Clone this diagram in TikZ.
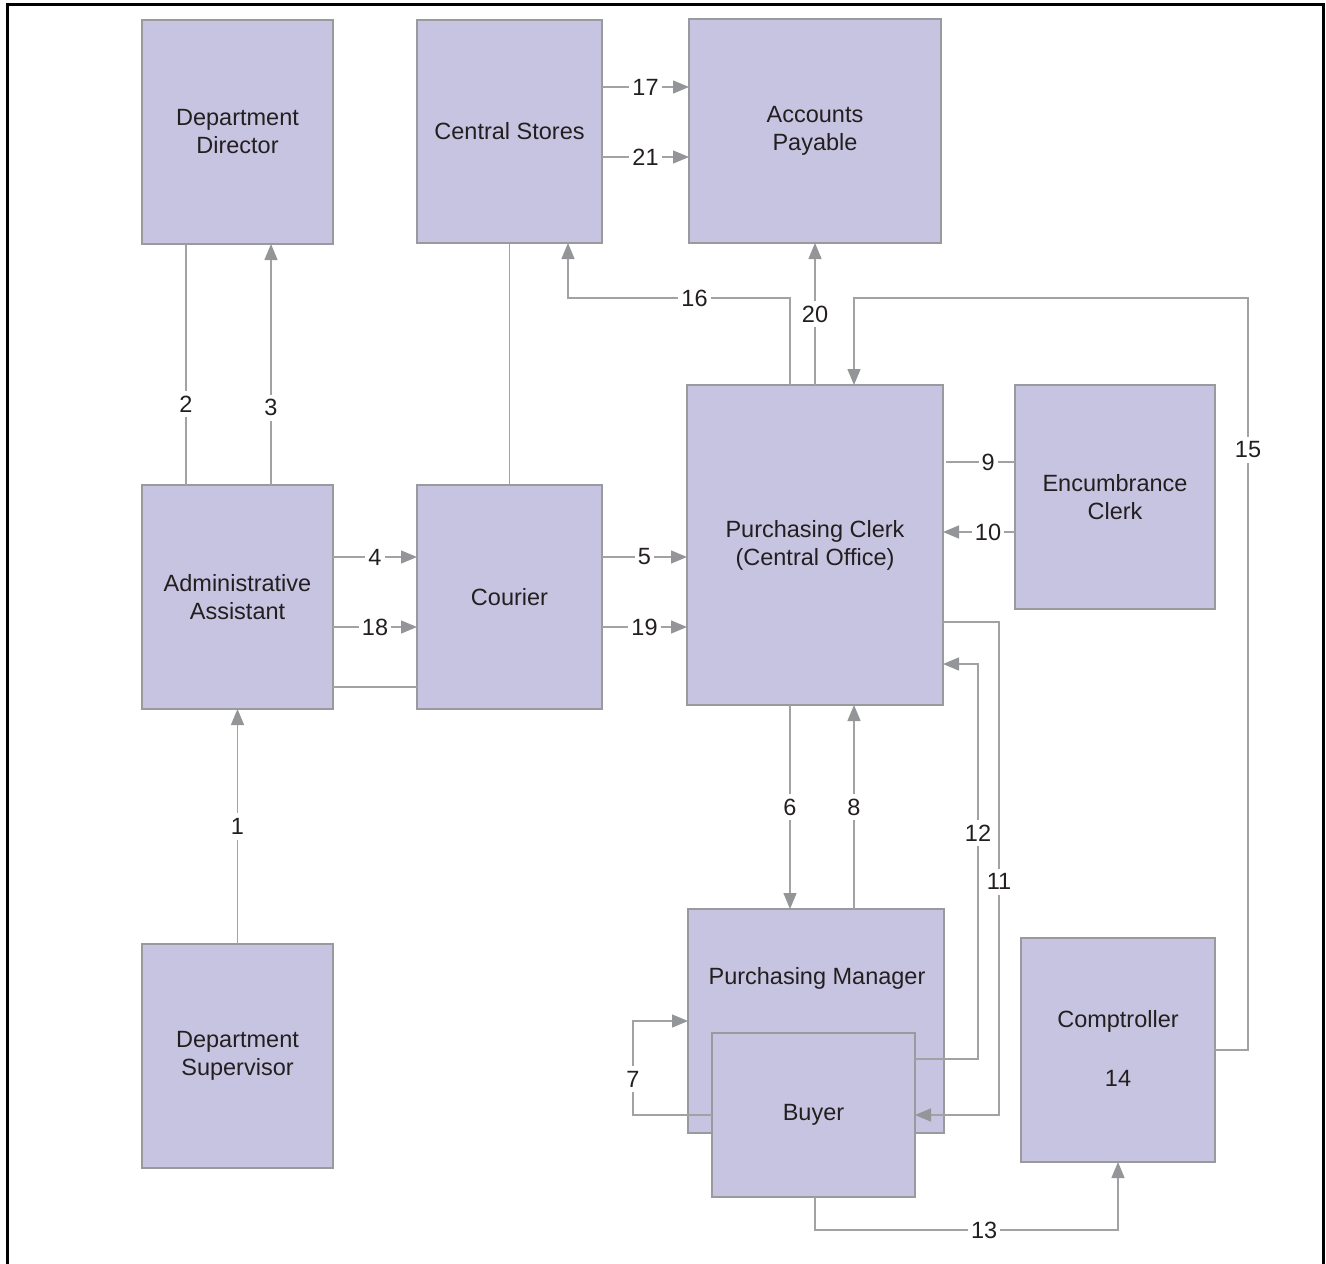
\documentclass[tikz,border=0pt]{standalone}
\usepackage{fontspec}
\setmainfont{Liberation Sans}
\usetikzlibrary{arrows.meta}
\definecolor{boxfill}{HTML}{C7C4E1}
\definecolor{boxline}{HTML}{9A9A9E}
\definecolor{conn}{HTML}{A2A2A4}
\definecolor{tip}{HTML}{949598}
\definecolor{txt}{HTML}{231F20}
\tikzset{
  box/.style={draw=boxline, fill=boxfill, line width=1.3pt, outer sep=0pt, inner sep=0pt,
    align=center, text=txt, font=\fontsize{23.5}{28}\selectfont},
  conline/.style={draw=conn, line width=1.4pt},
  arr/.style={conline, -{Triangle[length=16pt, width=13pt, fill=tip, color=tip]}},
  lab/.style={fill=white, text=txt, inner xsep=3pt, inner ysep=5pt, font=\fontsize{23.5}{28}\selectfont}
}
\begin{document}
\begin{tikzpicture}[x=1pt,y=-1pt]
\useasboundingbox (0,0) rectangle (1326,1264);
\draw[black, line width=3pt] (7,1270) -- (7,4) -- (1323,4) -- (1323,1270);

% boxes
\node[box, minimum width=191pt, minimum height=224pt] (dd) at (237.5,132) {Department\\Director};
\node[box, minimum width=185pt, minimum height=223pt] (cs) at (509.5,131.5) {Central Stores};
\node[box, minimum width=252pt, minimum height=224pt] (ap) at (815,131) {Accounts\\Payable};
\node[box, minimum width=191pt, minimum height=224pt] (aa) at (237.5,597) {Administrative\\Assistant};
\node[box, minimum width=185pt, minimum height=224pt] (co) at (509.5,597) {Courier};
\node[box, minimum width=256pt, minimum height=320pt] (pc) at (815,545) {Purchasing Clerk\\(Central Office)};
\node[box, minimum width=200pt, minimum height=224pt] (ec) at (1115,497) {Encumbrance\\Clerk};
\node[box, minimum width=191pt, minimum height=224pt] (ds) at (237.5,1056) {Department\\Supervisor};
\node[box, minimum width=256pt, minimum height=224pt] (pm) at (816,1021) {};
\node[text=txt, font=\fontsize{23.5}{28}\selectfont] (pmt) at (817,978) {Purchasing Manager};
\node[box, minimum width=203pt, minimum height=164pt] (by) at (813.5,1115) {Buyer};
\node[box, minimum width=194pt, minimum height=224pt] (cm) at (1118,1050) {};
\node[text=txt, font=\fontsize{23.5}{28}\selectfont] (cmt) at (1118,1021) {Comptroller};
\node[text=txt, font=\fontsize{23.5}{28}\selectfont] (cmn) at (1118,1078) {14};

% connectors
\draw[arr] (ds.north) -- node[lab]{1} (aa.south);
\draw[conline] (aa.north -| 186,0) -- node[lab,pos=0.336]{2} (dd.south -| 186,0);
\draw[arr] (aa.north -| 271,0) -- node[lab,pos=0.32]{3} (dd.south -| 271,0);
\draw[arr] (aa.east |- 0,557) -- node[lab]{4} (co.west |- 0,557);
\draw[arr] (aa.east |- 0,627) -- node[lab]{18} (co.west |- 0,627);
\draw[conline] (aa.east |- 0,687) -- (co.west |- 0,687);
\draw[conline] (co.north) -- (cs.south);
\draw[arr] (co.east |- 0,557) -- node[lab]{5} (pc.west |- 0,557);
\draw[arr] (co.east |- 0,627) -- node[lab]{19} (pc.west |- 0,627);
\draw[arr] (cs.east |- 0,87) -- node[lab]{17} (ap.west |- 0,87);
\draw[arr] (cs.east |- 0,157) -- node[lab]{21} (ap.west |- 0,157);
\draw[arr] (pc.north -| 790,0) -- (790,298) -- node[lab,pos=0.43]{16} (568,298) -- (cs.south -| 568,0);
\draw[arr] (pc.north -| 815,0) -- node[lab]{20} (ap.south -| 815,0);
\draw[arr] (cm.east |- 0,1050) -- (1248,1050) -- node[lab,pos=0.798]{15} (1248,298) -- (854,298) -- (pc.north -| 854,0);
\draw[conline] ([xshift=3pt]pc.east |- 0,462) -- node[lab,pos=0.61]{9} (ec.west |- 0,462);
\draw[arr] (ec.west |- 0,532) -- node[lab,pos=0.375]{10} (pc.east |- 0,532);
\draw[arr] (pc.east |- 0,622) -- (999,622) -- node[lab,pos=0.527]{11} (999,1115) -- (by.east |- 0,1115);
\draw[arr] (by.east |- 0,1059) -- (978,1059) -- node[lab,pos=0.572]{12} (978,664) -- (pc.east |- 0,664);
\draw[arr] (pc.south -| 790,0) -- node[lab]{6} (pm.north -| 790,0);
\draw[arr] (pm.north -| 854,0) -- node[lab]{8} (pc.south -| 854,0);
\draw[arr] (by.west |- 0,1115) -- (633,1115) -- node[lab,pos=0.38]{7} (633,1021) -- (pm.west |- 0,1021);
\draw[arr] (by.south -| 815,0) -- (815,1230) -- node[lab,pos=0.558]{13} (1118,1230) -- (cm.south);
\end{tikzpicture}
\end{document}
